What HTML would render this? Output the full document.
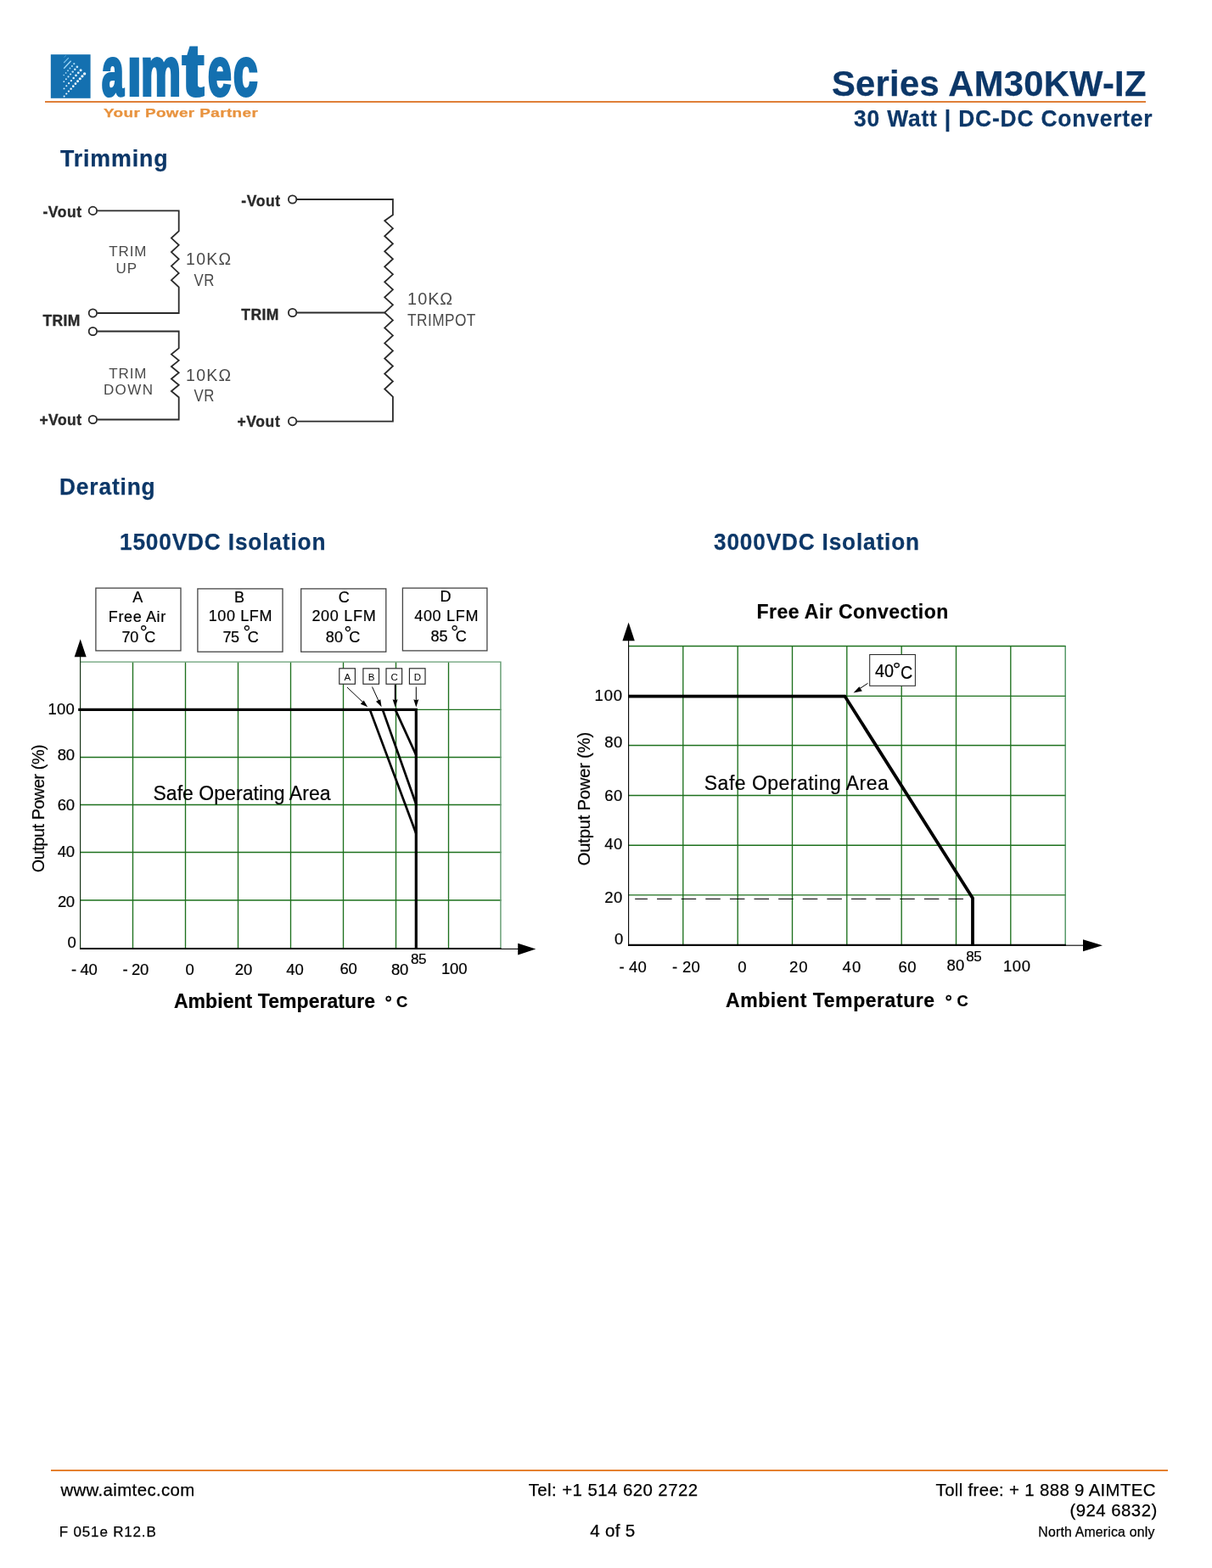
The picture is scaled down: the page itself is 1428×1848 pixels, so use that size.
<!DOCTYPE html>
<html lang="en">
<head>
<meta charset="utf-8">
<title>Series AM30KW-IZ - 30 Watt DC-DC Converter</title>
<style>
html,body{margin:0;padding:0;background:#fff;}
body{width:1428px;height:1848px;position:relative;overflow:hidden;font-family:"Liberation Sans",Arial,Helvetica,sans-serif;}
.t{position:absolute;line-height:1;white-space:pre;margin:0;padding:0;-webkit-text-stroke:.25px currentColor;}
.rule{position:absolute;background:#df7f38;height:2.2px;}
svg{position:absolute;left:0;top:0;overflow:visible;}
svg text{font-family:"Liberation Sans",Arial,Helvetica,sans-serif;white-space:pre;stroke:#000;stroke-width:.2px;}
svg text.n{stroke:none;}
.logo-word{position:absolute;font-weight:700;color:#1470b0;transform-origin:0 0;white-space:pre;line-height:1;}
</style>
</head>
<body>

<header>
<div class="rule" style="left:53px;top:118.9px;width:1297px;"></div>
<svg width="120" height="130" viewBox="0 0 120 130">
<rect x="59.8" y="64.2" width="46.8" height="51.6" fill="#1470b0"/>
<circle cx="75.60" cy="113.50" r="1.00" fill="#f2faff"/>
<circle cx="78.27" cy="110.54" r="1.08" fill="#f2faff"/>
<circle cx="80.93" cy="107.59" r="1.16" fill="#f2faff"/>
<circle cx="83.60" cy="104.63" r="1.23" fill="#f2faff"/>
<circle cx="86.27" cy="101.68" r="1.31" fill="#f2faff"/>
<circle cx="88.93" cy="98.72" r="1.39" fill="#f2faff"/>
<circle cx="91.60" cy="95.77" r="1.47" fill="#f2faff"/>
<circle cx="94.27" cy="92.81" r="1.54" fill="#f2faff"/>
<circle cx="96.93" cy="89.86" r="1.62" fill="#f2faff"/>
<circle cx="99.60" cy="86.90" r="1.70" fill="#f2faff"/>
<circle cx="75.50" cy="104.40" r="0.95" fill="#ddf1ff"/>
<circle cx="78.30" cy="101.30" r="1.03" fill="#ddf1ff"/>
<circle cx="81.10" cy="98.20" r="1.11" fill="#ddf1ff"/>
<circle cx="83.90" cy="95.10" r="1.19" fill="#ddf1ff"/>
<circle cx="86.70" cy="92.00" r="1.26" fill="#ddf1ff"/>
<circle cx="89.50" cy="88.90" r="1.34" fill="#ddf1ff"/>
<circle cx="92.30" cy="85.80" r="1.42" fill="#ddf1ff"/>
<circle cx="95.10" cy="82.70" r="1.50" fill="#ddf1ff"/>
<circle cx="75.30" cy="96.20" r="0.90" fill="#c4e7fc"/>
<circle cx="77.90" cy="93.30" r="0.98" fill="#c4e7fc"/>
<circle cx="80.50" cy="90.40" r="1.05" fill="#c4e7fc"/>
<circle cx="83.10" cy="87.50" r="1.12" fill="#c4e7fc"/>
<circle cx="85.70" cy="84.60" r="1.20" fill="#c4e7fc"/>
<circle cx="88.30" cy="81.70" r="1.28" fill="#c4e7fc"/>
<circle cx="90.90" cy="78.80" r="1.35" fill="#c4e7fc"/>
<circle cx="75.20" cy="88.60" r="0.80" fill="#a4d9f6"/>
<circle cx="77.62" cy="85.92" r="0.86" fill="#a4d9f6"/>
<circle cx="80.04" cy="83.24" r="0.92" fill="#a4d9f6"/>
<circle cx="82.46" cy="80.56" r="0.98" fill="#a4d9f6"/>
<circle cx="84.88" cy="77.88" r="1.04" fill="#a4d9f6"/>
<circle cx="87.30" cy="75.20" r="1.10" fill="#a4d9f6"/>
<path d="M75.2,80.8 L83.6,71.8" stroke="#9fd6f5" stroke-width="1.4" fill="none"/>
<path d="M75.2,74 L80.8,68.2" stroke="#7cc3ec" stroke-width="1.1" fill="none"/>
<path d="M75.4,67.6 L78,65.2" stroke="#4d9fd4" stroke-width="0.9" fill="none"/>
</svg>
<div class="logo-word" role="img" aria-label="aimtec" style="left:0;top:0;width:320px;height:120px;"><span style="position:absolute;left:120.30px;top:43.56px;font-size:80.5px;line-height:1;transform-origin:0 0;transform:scale(0.5750,1);-webkit-text-stroke:4.0px #1470b0;">a</span><span style="position:absolute;left:149.69px;top:43.56px;font-size:80.5px;line-height:1;transform-origin:0 0;transform:scale(0.7375,1);-webkit-text-stroke:4.0px #1470b0;">ı</span><span style="position:absolute;left:166.13px;top:43.56px;font-size:80.5px;line-height:1;transform-origin:0 0;transform:scale(0.6576,1);-webkit-text-stroke:4.0px #1470b0;">m</span><span style="position:absolute;left:214.58px;top:38.90px;font-size:86px;line-height:1;transform-origin:0 0;transform:scale(0.8774,1);-webkit-text-stroke:4.0px #1470b0;">t</span><span style="position:absolute;left:244.68px;top:43.56px;font-size:80.5px;line-height:1;transform-origin:0 0;transform:scale(0.6182,1);-webkit-text-stroke:4.0px #1470b0;">e</span><span style="position:absolute;left:274.76px;top:43.56px;font-size:80.5px;line-height:1;transform-origin:0 0;transform:scale(0.6364,1);-webkit-text-stroke:4.0px #1470b0;">c</span></div>
<div class="t" style="left:121.80px;top:126.24px;font-size:14.6px;font-weight:700;color:#e8933f;letter-spacing:0.3px;transform-origin:0 0;transform:scale(1.2960,1);">Your Power Partner</div>
<div class="t" style="left:980.03px;top:76.90px;font-size:43px;font-weight:700;color:#0c3768;letter-spacing:0.3px;transform-origin:0 0;transform:scale(0.9699,1);">Series AM30KW-IZ</div>
<div class="t" style="left:1005.60px;top:124.94px;font-size:28.3px;font-weight:700;color:#0c3768;letter-spacing:0.9px;transform-origin:0 0;transform:scale(0.9314,1);">30 Watt | DC-DC Converter</div>
</header>
<main>
<div class="t" style="left:70.90px;top:173.45px;font-size:27.7px;font-weight:700;color:#0c3768;letter-spacing:0.9px;transform-origin:0 0;transform:scale(0.9670,1);">Trimming</div>
<div class="t" style="left:70.45px;top:559.65px;font-size:27.7px;font-weight:700;color:#0c3768;letter-spacing:0.9px;transform-origin:0 0;transform:scale(0.9495,1);">Derating</div>
<div class="t" style="left:141.05px;top:624.55px;font-size:27.7px;font-weight:700;color:#0c3768;letter-spacing:0.9px;transform-origin:0 0;transform:scale(0.9470,1);">1500VDC Isolation</div>
<div class="t" style="left:841.30px;top:624.55px;font-size:27.7px;font-weight:700;color:#0c3768;letter-spacing:0.9px;transform-origin:0 0;transform:scale(0.9453,1);">3000VDC Isolation</div>
<svg width="1428" height="1848" viewBox="0 0 1428 1848">
<g fill="none" stroke="#2a2a2a" stroke-width="1.8" stroke-linejoin="miter">
<path d="M114.5,248.4 H210.7 V272.3 L201.9,280.56 L210.7,288.82 L201.9,297.09 L210.7,305.35 L201.9,313.61 L210.7,321.88 L201.9,330.14 L210.7,338.40 V369 H114.5"/>
<path d="M114.5,390.5 H210.7 V410.4 L201.9,417.62 L210.7,424.85 L201.9,432.07 L210.7,439.30 L201.9,446.52 L210.7,453.75 L201.9,460.98 L210.7,468.20 V494.5 H114.5"/>
<circle cx="109.4" cy="248.4" r="4.7"/>
<circle cx="109.4" cy="369" r="4.7"/>
<circle cx="109.4" cy="390.5" r="4.7"/>
<circle cx="109.4" cy="494.5" r="4.7"/>
<path d="M349.7,235 H462.9 V253.2 L453.2,260.20 L462.9,269.20 L453.2,278.23 L462.9,287.23 L453.2,296.26 L462.9,305.26 L453.2,314.29 L462.9,323.29 L453.2,332.32 L462.9,341.32 L453.2,350.35 L462.9,359.35 L453.2,368.38 L462.9,377.38 L453.2,386.41 L462.9,395.41 L453.2,404.44 L462.9,413.44 L453.2,422.47 L462.9,431.47 L453.2,440.50 L462.9,449.50 L453.2,458.53 L462.9,467.53 V496.6 H349.7"/>
<path d="M349.7,368.5 H453.5"/>
<circle cx="344.6" cy="235" r="4.7"/>
<circle cx="344.6" cy="368.5" r="4.7"/>
<circle cx="344.6" cy="496.6" r="4.7"/>
</g>
<text x="50.4" y="255.5" font-size="17.5" font-weight="700" fill="#2a2a2a" style="stroke:#2a2a2a;stroke-width:0.35px" letter-spacing="0.555">-Vout</text>
<text x="50.4" y="384.1" font-size="17.5" font-weight="700" fill="#2a2a2a" style="stroke:#2a2a2a;stroke-width:0.35px" letter-spacing="0.37">TRIM</text>
<text x="46.4" y="500.5" font-size="17.5" font-weight="700" fill="#2a2a2a" style="stroke:#2a2a2a;stroke-width:0.35px" letter-spacing="0.457">+Vout</text>
<text x="284.3" y="243.4" font-size="17.5" font-weight="700" fill="#2a2a2a" style="stroke:#2a2a2a;stroke-width:0.35px" letter-spacing="0.605">-Vout</text>
<text x="284.3" y="377.0" font-size="17.5" font-weight="700" fill="#2a2a2a" style="stroke:#2a2a2a;stroke-width:0.35px" letter-spacing="0.437">TRIM</text>
<text x="279.5" y="503.0" font-size="17.5" font-weight="700" fill="#2a2a2a" style="stroke:#2a2a2a;stroke-width:0.35px" letter-spacing="0.607">+Vout</text>
<text x="128.3" y="302.3" font-size="17" fill="#4a4a4a" style="stroke:#4a4a4a;stroke-width:0px" letter-spacing="0.839">TRIM</text>
<text x="136.6" y="321.6" font-size="17" fill="#4a4a4a" style="stroke:#4a4a4a;stroke-width:0px" letter-spacing="0.823">UP</text>
<text x="128.3" y="445.7" font-size="17" fill="#4a4a4a" style="stroke:#4a4a4a;stroke-width:0px" letter-spacing="0.839">TRIM</text>
<text x="121.9" y="465" font-size="17" fill="#4a4a4a" style="stroke:#4a4a4a;stroke-width:0px" letter-spacing="1.418">DOWN</text>
<text x="219.1" y="312.2" font-size="19.5" fill="#4a4a4a" style="stroke:#4a4a4a;stroke-width:0px" letter-spacing="1.268">10KΩ</text>
<text transform="translate(228.50,337.4) scale(0.8621,1)" font-size="19.5" fill="#4a4a4a" style="stroke:#4a4a4a;stroke-width:0px" letter-spacing="0.6">VR</text>
<text x="219.1" y="448.9" font-size="19.5" fill="#4a4a4a" style="stroke:#4a4a4a;stroke-width:0px" letter-spacing="1.268">10KΩ</text>
<text transform="translate(228.50,473.4) scale(0.8621,1)" font-size="19.5" fill="#4a4a4a" style="stroke:#4a4a4a;stroke-width:0px" letter-spacing="0.6">VR</text>
<text transform="translate(480.12,358.9) scale(0.9777,1)" font-size="20.3" fill="#4a4a4a" style="stroke:#4a4a4a;stroke-width:0px" letter-spacing="1.0">10KΩ</text>
<text transform="translate(480.10,383.7) scale(0.8501,1)" font-size="20.3" fill="#4a4a4a" style="stroke:#4a4a4a;stroke-width:0px" letter-spacing="0.5">TRIMPOT</text>
<g stroke="#1d701d" stroke-width="1.35" fill="none">
<path d="M156.5,780.4V1117.6M218.5,780.4V1117.6M280.5,780.4V1117.6M342.5,780.4V1117.6M404.5,780.4V1117.6M466.5,780.4V1117.6M528.5,780.4V1117.6M94.5,836.4H590.5M94.5,892.5H590.5M94.5,948.5H590.5M94.5,1004.5H590.5M94.5,1061H590.5"/>
<path d="M94.5,780.1H589.9V1117.6" stroke="#659d73" stroke-width="1.45" stroke-linejoin="miter"/>
</g>
<g stroke="#000" fill="none">
<path d="M94.6,772V1118.4" stroke-width="1.15" stroke="#102e10"/>
<path d="M94,1118.1H590.5" stroke-width="2"/><path d="M590,1118.4H612" stroke-width="1.1"/>
<path d="M92.2,836.4H490.3V1118.4" stroke-width="3.2"/>
<path d="M435.8,836.4L490.3,982.5M450.8,836.4L490.3,948M465.8,836.4L490.3,890" stroke-width="2.7"/>
</g>
<path d="M94.7,753.3L101.7,774.3H87.7Z"/>
<path d="M631.3,1118.6L610.2,1111.8V1125.4Z"/>
<rect x="112.90" y="693.10" width="100.10" height="73.80" fill="#fff" stroke="#454545" stroke-width="1.3"/>
<text x="156.2" y="710.0" font-size="18">A</text>
<text x="127.8" y="732.9" font-size="18" letter-spacing="0.626">Free Air</text>
<text x="143.6" y="756.7" font-size="18" letter-spacing="-0.311">70</text>
<text x="169.2" y="752.87" font-size="22.07" text-anchor="middle">°</text>
<text x="170.2" y="756.7" font-size="18">C</text>
<rect x="232.90" y="693.90" width="100.10" height="74.30" fill="#fff" stroke="#454545" stroke-width="1.3"/>
<text x="276" y="709.5" font-size="18">B</text>
<text x="245.7" y="732.3" font-size="18" letter-spacing="0.61">100 LFM</text>
<text x="262.5" y="756.7" font-size="18" letter-spacing="-0.411">75</text>
<text x="290.8" y="753.27" font-size="22.07" text-anchor="middle">°</text>
<text x="291.8" y="756.7" font-size="18">C</text>
<rect x="354.70" y="693.90" width="100.10" height="74.30" fill="#fff" stroke="#454545" stroke-width="1.3"/>
<text x="398.8" y="709.5" font-size="18">C</text>
<text x="367.4" y="732.3" font-size="18" letter-spacing="0.71">200 LFM</text>
<text x="383.8" y="756.7" font-size="18" letter-spacing="0.089">80</text>
<text x="410" y="753.87" font-size="22.07" text-anchor="middle">°</text>
<text x="411.2" y="756.7" font-size="18">C</text>
<rect x="474.40" y="693.10" width="99.50" height="73.80" fill="#fff" stroke="#454545" stroke-width="1.3"/>
<text x="518.6" y="708.5" font-size="18">D</text>
<text x="488.2" y="731.5" font-size="18" letter-spacing="0.693">400 LFM</text>
<text x="507.5" y="756" font-size="18" letter-spacing="0.089">85</text>
<text x="535.7" y="753.27" font-size="22.07" text-anchor="middle">°</text>
<text x="536.8" y="756" font-size="18">C</text>
<rect x="399.8" y="787.8" width="18.6" height="18.4" fill="#fff" stroke="#262626" stroke-width="1.15"/>
<text class="n" x="409.4" y="801.6" font-size="11.5" text-anchor="middle">A</text>
<rect x="427.9" y="787.8" width="18.6" height="18.4" fill="#fff" stroke="#262626" stroke-width="1.15"/>
<text class="n" x="437.5" y="801.6" font-size="11.5" text-anchor="middle">B</text>
<rect x="455.0" y="787.8" width="18.6" height="18.4" fill="#fff" stroke="#262626" stroke-width="1.15"/>
<text class="n" x="464.6" y="801.6" font-size="11.5" text-anchor="middle">C</text>
<rect x="482.4" y="787.8" width="18.6" height="18.4" fill="#fff" stroke="#262626" stroke-width="1.15"/>
<text class="n" x="492.0" y="801.6" font-size="11.5" text-anchor="middle">D</text>
<g stroke="#000" stroke-width="1" fill="#000">
<path d="M409,810L429,829" fill="none"/><path d="M433.2,833.2L424.8,829.8L428.6,825.6Z" stroke="none"/>
<path d="M438.5,809.5L446.5,827" fill="none"/><path d="M449.6,833.2L443,826.8L448.2,824.2Z" stroke="none"/>
<path d="M465.6,807V826" fill="none" stroke-width="1.6"/><path d="M465.6,833.6L462.6,824.3L465.6,825.3L468.6,824.3Z" stroke="none"/>
<path d="M490.3,809.5V826" fill="none"/><path d="M490.3,833.6L487.3,824.3L490.3,825.3L493.3,824.3Z" stroke="none"/>
</g>
<text x="56.4" y="842" font-size="18.5" letter-spacing="0.211">100</text>
<text x="67.7" y="895.5" font-size="18.5" letter-spacing="-0.289">80</text>
<text x="67.7" y="955.4" font-size="18.5" letter-spacing="-0.289">60</text>
<text x="67.7" y="1009.5" font-size="18.5" letter-spacing="-0.289">40</text>
<text x="67.9" y="1069" font-size="18.5" letter-spacing="-0.489">20</text>
<text x="79.5" y="1117.1" font-size="18.5">0</text>
<text x="84.1" y="1148.7" font-size="18.5" letter-spacing="-0.396">- 40</text>
<text x="144.6" y="1148.7" font-size="18.5" letter-spacing="-0.396">- 20</text>
<text x="218.5" y="1148.7" font-size="18.5">0</text>
<text x="276.7" y="1148.7" font-size="18.5" letter-spacing="-0.089">20</text>
<text x="337.3" y="1148.7" font-size="18.5" letter-spacing="-0.089">40</text>
<text x="400.6" y="1148.4" font-size="18.5" letter-spacing="-0.289">60</text>
<text x="461" y="1148.6" font-size="18.5" letter-spacing="-0.389">80</text>
<text x="519.9" y="1147.5" font-size="18.5" letter-spacing="-0.139">100</text>
<text x="484.1" y="1135.5" font-size="17" letter-spacing="-0.455">85</text>
<text x="180.5" y="942.7" font-size="23" letter-spacing="0.034">Safe Operating Area</text>
<text transform="translate(51.6,1028.2) rotate(-90)" font-size="19.8" letter-spacing="-0.421">Output Power (%)</text>
<text x="204.9" y="1188.3" font-size="23" font-weight="700" letter-spacing="0.06">Ambient Temperature</text>
<text x="457.6" y="1188.37" font-size="20.94" text-anchor="middle" font-weight="700">°</text>
<text x="467.1" y="1187.4" font-size="18.3" font-weight="700">C</text>
<g stroke="#1d701d" stroke-width="1.35" fill="none">
<path d="M804.8,761.0V1114M869.2,761.0V1114M933.5,761.0V1114M997.8,761.0V1114M1062.2,761.0V1114M1126.5,761.0V1114M1190.8,761.0V1114M740.5,761.5H1255.6M740.5,820.4H1255.6M740.5,878.5H1255.6M740.5,937.5H1255.6M740.5,996.2H1255.6M740.5,1054.8H1255.6"/>
<path d="M1255.2,761.0V1114" stroke="#3c8a52" stroke-width="1.3"/>
</g>
<g stroke="#000" fill="none">
<path d="M740.6,752V1114.7" stroke-width="1.1"/>
<path d="M740,1113.9H1255.8" stroke-width="2.1"/><path d="M1255,1114.2H1280" stroke-width="1.1"/>
<path d="M740.5,820.6H995.4L1146,1058.5V1114.7" stroke-width="3.8" stroke-linejoin="miter"/>
<path d="M1135,1059.5H748.2" stroke-width="1.1" stroke-dasharray="17.5,11.12"/>
</g>
<path d="M740.6,733.6L747.8,755.3H733.4Z"/>
<path d="M1299,1114.2L1276,1107.2V1121.2Z"/>
<rect x="1024.7" y="771.5" width="53.7" height="36.8" fill="#fff" stroke="#2a2a2a" stroke-width="1.05"/>
<text transform="translate(1031.00,797.9) scale(0.9349,1)" font-size="21.2">40</text>
<text x="1056.5" y="797.34" font-size="24.14" text-anchor="middle">°</text>
<text transform="translate(1061.07,799.6) scale(0.9286,1)" font-size="21.2">C</text>
<g stroke="#000" stroke-width="1" fill="#000"><path d="M1022.5,805.3L1012,812.2" fill="none"/><path d="M1005.6,816.6L1012.4,809.2L1015.8,814.6Z" stroke="none"/></g>
<text x="700.5" y="826" font-size="18.5" letter-spacing="0.861">100</text>
<text x="712.3" y="881.4" font-size="18.5" letter-spacing="0.411">80</text>
<text x="712.3" y="944.4" font-size="18.5" letter-spacing="0.411">60</text>
<text x="712.3" y="1000.7" font-size="18.5" letter-spacing="0.411">40</text>
<text x="712.3" y="1063.5" font-size="18.5" letter-spacing="0.411">20</text>
<text x="724" y="1113" font-size="18.5">0</text>
<text x="729.5" y="1146.3" font-size="18.5" letter-spacing="0.137">- 40</text>
<text x="792" y="1146.3" font-size="18.5" letter-spacing="0.304">- 20</text>
<text x="869.3" y="1146.3" font-size="18.5">0</text>
<text x="930" y="1146.3" font-size="18.5" letter-spacing="1.011">20</text>
<text x="992.5" y="1146.3" font-size="18.5" letter-spacing="1.211">40</text>
<text x="1058.5" y="1145.6" font-size="18.5" letter-spacing="0.511">60</text>
<text x="1115.4" y="1143.8" font-size="18.5" letter-spacing="0.311">80</text>
<text x="1182" y="1144.6" font-size="18.5" letter-spacing="0.561">100</text>
<text x="1138.3" y="1133" font-size="17" letter-spacing="-0.555">85</text>
<text x="829.8" y="931" font-size="23" letter-spacing="0.478">Safe Operating Area</text>
<text transform="translate(695.4,1020.2) rotate(-90)" font-size="20.3" letter-spacing="-0.255">Output Power (%)</text>
<text x="891.5" y="729" font-size="23" font-weight="700" letter-spacing="0.445">Free Air Convection</text>
<text x="855" y="1186.9" font-size="23" font-weight="700" letter-spacing="0.56">Ambient Temperature</text>
<text x="1117.6" y="1186.87" font-size="20.94" text-anchor="middle" font-weight="700">°</text>
<text x="1127.5" y="1186.1" font-size="18.3" font-weight="700">C</text>
</svg>
</main>
<footer>
<div class="rule" style="left:60px;top:1731.7px;width:1316px;height:2.3px;background:#e5802f"></div>
<div class="t" style="left:71.40px;top:1745.53px;font-size:20.4px;font-weight:400;color:#000;letter-spacing:0.379px;">www.aimtec.com</div>
<div class="t" style="left:622.70px;top:1745.53px;font-size:20.4px;font-weight:400;color:#000;letter-spacing:0.437px;">Tel: +1 514 620 2722</div>
<div class="t" style="left:1102.60px;top:1745.53px;font-size:20.4px;font-weight:400;color:#000;letter-spacing:0.342px;">Toll free: + 1 888 9 AIMTEC</div>
<div class="t" style="left:1260.40px;top:1769.73px;font-size:20.4px;font-weight:400;color:#000;letter-spacing:0.474px;">(924 6832)</div>
<div class="t" style="left:69.80px;top:1797.01px;font-size:17px;font-weight:400;color:#000;letter-spacing:0.822px;">F 051e R12.B</div>
<div class="t" style="left:695.30px;top:1794.06px;font-size:20.6px;font-weight:400;color:#000;letter-spacing:0.286px;">4 of 5</div>
<div class="t" style="left:1223.30px;top:1798.13px;font-size:15.8px;font-weight:400;color:#000;letter-spacing:0.211px;">North America only</div>
</footer>
</body>
</html>
